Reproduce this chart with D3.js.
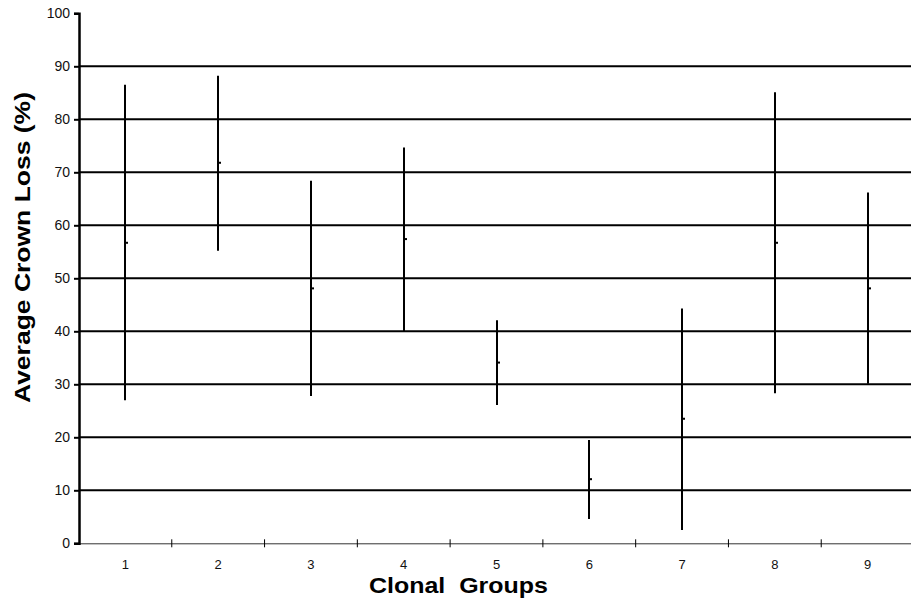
<!DOCTYPE html>
<html>
<head>
<meta charset="utf-8">
<script src="https://cdn.jsdelivr.net/npm/d3@7"></script>
<style>
	body{margin:0;background:#fff;}
	svg{display:block;font-family:'Liberation Sans',Arial,sans-serif;}
</style>
</head>
<body>
<div id="chart"></div>
<script>
//Clonal groups and the range / mean of crown loss
const groups = ['1','2','3','4','5','6','7','8','9'];
const highs = [86.5, 88.2, 68.4, 74.7, 42.1, 19.5, 44.3, 85.1, 66.2];
const means = [56.7, 71.8, 48.1, 57.4, 34.1, 12.1, 23.5, 56.7, 48.1];
const lows = [27.0, 55.2, 27.8, 39.9, 26.1, 4.6, 2.5, 28.3, 30.1];
const yTicks = [0,10,20,30,40,50,60,70,80,90,100];

const width = 911;
const height = 606;
const margin = {t:13.3,r:-3,b:62.7,l:79};
const w = width - margin.l - margin.r;
const h = height - margin.t - margin.b;

const data = groups.map((g,i) => {
	return {group:g, hi:highs[i], mean:means[i], lo:lows[i]};
});

const svg = d3.select('#chart').append('svg')
	.attr('width',width)
	.attr('height',height);

const plot = svg.append('g')
	.attr('transform',`translate(${margin.l},${margin.t})`);

const scaleX = d3.scaleBand().domain(groups).range([0,w]);
const scaleY = d3.scaleLinear().domain([0,100]).range([h,0]);

//gridlines (none at 0 and 100)
plot.selectAll('.grid')
	.data(yTicks.filter(d => d > 0 && d < 100))
	.enter().append('line')
	.attr('class','grid')
	.attr('x1',0)
	.attr('x2',w)
	.attr('y1',d => scaleY(d))
	.attr('y2',d => scaleY(d))
	.style('stroke','#000')
	.style('stroke-width',2);

//x axis
const axisX = d3.axisBottom().scale(scaleX).tickSize(0).tickPadding(16);
const axisXNode = plot.append('g')
	.attr('class','axis axis-x')
	.attr('transform',`translate(0,${h})`)
	.call(axisX);
axisXNode.select('.domain').style('stroke','#333').style('stroke-width',1);
axisXNode.selectAll('text').style('font-size','13px').style('fill','#111');
//boundary ticks between bands
plot.selectAll('.bandtick')
	.data(groups.slice(1))
	.enter().append('line')
	.attr('class','bandtick')
	.attr('x1',d => scaleX(d))
	.attr('x2',d => scaleX(d))
	.attr('y1',h-4)
	.attr('y2',h+4)
	.style('stroke','#000')
	.style('stroke-width',1);

//y axis
const axisY = d3.axisLeft().scale(scaleY).tickValues(yTicks).tickSize(5).tickPadding(4);
const axisYNode = plot.append('g')
	.attr('class','axis axis-y')
	.call(axisY);
axisYNode.select('.domain').style('stroke','#000').style('stroke-width',2.5);
axisYNode.selectAll('.tick line').style('stroke','#000').style('stroke-width',2);
axisYNode.selectAll('text').style('font-size','14px').style('fill','#111');

//range bars
const cx = d => Math.round(scaleX(d.group) + scaleX.bandwidth()/2);
plot.selectAll('.range')
	.data(data)
	.enter().append('line')
	.attr('class','range')
	.attr('x1',cx)
	.attr('x2',cx)
	.attr('y1',d => scaleY(d.hi))
	.attr('y2',d => scaleY(d.lo))
	.style('stroke','#000')
	.style('stroke-width',2);

//mean marks
plot.selectAll('.mean')
	.data(data)
	.enter().append('rect')
	.attr('class','mean')
	.attr('x',d => cx(d))
	.attr('y',d => scaleY(d.mean) - 1)
	.attr('width',3)
	.attr('height',2)
	.style('fill','#000');

//titles (stretched like the original)
svg.append('text')
	.attr('x',369)
	.attr('y',593)
	.attr('textLength',179)
	.attr('lengthAdjust','spacingAndGlyphs')
	.style('font-size','22px')
	.style('font-weight','bold')
	.style('white-space','pre')
	.text('Clonal  Groups');

svg.append('text')
	.attr('transform','translate(30,403) rotate(-90)')
	.attr('textLength',311)
	.attr('lengthAdjust','spacingAndGlyphs')
	.style('font-size','22px')
	.style('font-weight','bold')
	.text('Average Crown Loss (%)');
</script>
</body>
</html>
